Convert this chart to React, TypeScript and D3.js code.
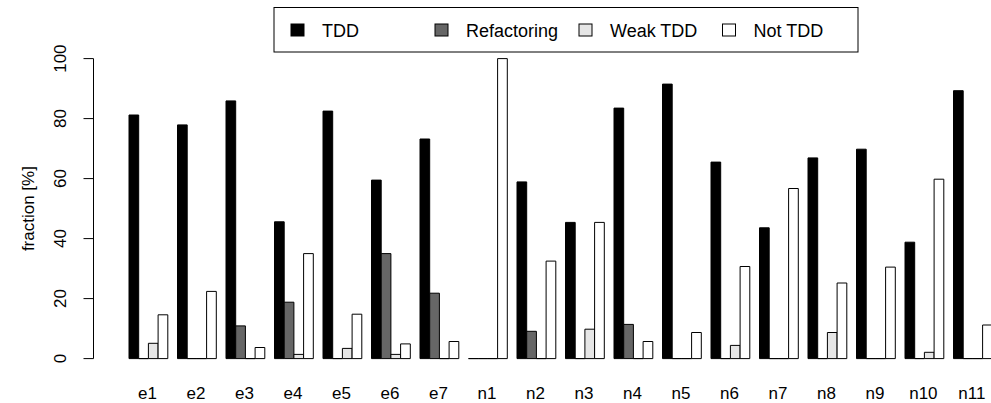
import React from "react";
import * as d3 from "d3";

// Share of each development phase per session (percent)
const categories = ["e1", "e2", "e3", "e4", "e5", "e6", "e7", "n1", "n2", "n3", "n4", "n5", "n6", "n7", "n8", "n9", "n10", "n11"];
const seriesNames = ["TDD", "Refactoring", "Weak TDD", "Not TDD"];
const tddValues = [81.2, 77.9, 85.9, 45.6, 82.5, 59.5, 73.2, 0, 58.9, 45.4, 83.5, 91.5, 65.5, 43.6, 66.9, 69.8, 38.8, 89.3];
const refactoringValues = [0, 0, 10.9, 18.8, 0, 35.0, 21.8, 0, 9.1, 0, 11.4, 0, 0, 0, 0, 0, 0, 0];
const weakTddValues = [5.1, 0, 0, 1.4, 3.4, 1.4, 0, 0, 0, 9.8, 0, 0, 4.4, 0, 8.7, 0, 2.1, 0];
const notTddValues = [14.6, 22.4, 3.7, 35.0, 14.8, 4.9, 5.7, 100, 32.5, 45.4, 5.7, 8.7, 30.7, 56.7, 25.2, 30.5, 59.8, 11.2];
const yTicks = [0, 20, 40, 60, 80, 100];
const seriesFills = ["#000000", "#666666", "#e6e6e6", "#ffffff"];

const W = 991;
const H = 403;
const FONT = "'Liberation Sans', Arial, Helvetica, sans-serif";

export default function App() {
  const seriesValues = [tddValues, refactoringValues, weakTddValues, notTddValues];

  const y = d3.scaleLinear().domain([0, 100]).range([358.6, 58.6]);
  const x0 = d3
    .scaleBand<string>()
    .domain(categories)
    .range([129, 992.3])
    .paddingInner(0.2)
    .paddingOuter(0);
  const x1 = d3.scaleBand<string>().domain(seriesNames).range([0, x0.bandwidth()]).padding(0);

  const axisX = 93.5;

  const barPath = (xl: number, w: number, v: number) => {
    const p = d3.path();
    const yb = y(0);
    const yt = y(v);
    p.moveTo(xl, yb);
    p.lineTo(xl, yt);
    p.lineTo(xl + w, yt);
    p.lineTo(xl + w, yb);
    p.closePath();
    return p.toString();
  };

  const legendX = [291, 435, 579, 722.5];

  return (
    <svg
      width={W}
      height={H}
      style={{ position: "absolute", left: 0, top: 0, background: "#ffffff" }}
      fontFamily={FONT}
    >
      <rect x={0} y={0} width={W} height={H} fill="#ffffff" />

      {/* bars */}
      {categories.map((c, i) => (
        <g key={c}>
          {seriesNames.map((s, j) => (
            <path
              key={s}
              d={barPath(x0(c)! + x1(s)!, x1.bandwidth(), seriesValues[j][i])}
              fill={seriesFills[j]}
              stroke="#000000"
              strokeWidth={1}
            />
          ))}
          <text
            x={x0(c)! + x0.bandwidth() / 2 - 1}
            y={398.5}
            fontSize={17}
            textAnchor="middle"
            fill="#000000"
          >
            {c}
          </text>
        </g>
      ))}

      {/* y axis */}
      <line x1={axisX} x2={axisX} y1={y(0)} y2={y(100)} stroke="#000000" strokeWidth={1} />
      {yTicks.map((t) => (
        <g key={t}>
          <line x1={axisX - 10} x2={axisX} y1={y(t)} y2={y(t)} stroke="#000000" strokeWidth={1} />
          <text
            transform={`translate(${66},${y(t)}) rotate(-90)`}
            fontSize={17}
            textAnchor="middle"
            fill="#000000"
          >
            {t}
          </text>
        </g>
      ))}
      <text
        transform={`translate(${34},${y(50)}) rotate(-90)`}
        fontSize={17}
        textAnchor="middle"
        fill="#000000"
      >
        fraction [%]
      </text>

      {/* legend */}
      <rect x={274} y={7.5} width={584} height={44.5} fill="#ffffff" stroke="#000000" strokeWidth={1} />
      {seriesNames.map((s, j) => (
        <g key={s}>
          <rect x={legendX[j]} y={24} width={13} height={12} fill={seriesFills[j]} stroke="#000000" strokeWidth={1} />
          <text x={legendX[j] + 31} y={36.5} fontSize={18} fill="#000000">
            {s}
          </text>
        </g>
      ))}
    </svg>
  );
}
